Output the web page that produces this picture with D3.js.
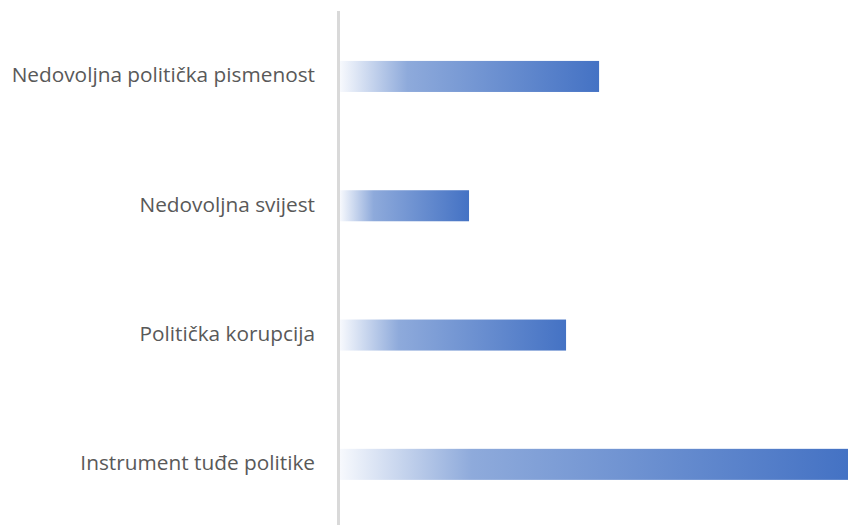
<!DOCTYPE html>
<html><head><meta charset="utf-8">
<script src="https://cdn.jsdelivr.net/npm/d3@7"></script>
<style>html,body{margin:0;padding:0;background:#fff;}</style>
</head><body>
<svg id="c" width="848" height="525"></svg>
<script>
const categories = ["Nedovoljna politička pismenost","Nedovoljna svijest","Politička korupcija","Instrument tuđe politike"];
const values = [51, 25.4, 44.5, 100];

const svg = d3.select("#c");
const x = d3.scaleLinear().domain([0, 100]).range([340, 848]);
const y = d3.scaleBand().domain(categories).range([11.8, 529]).paddingInner(0.76).paddingOuter(0.38);

const defs = svg.append("defs");
const grad = defs.append("linearGradient").attr("id","g").attr("x1","0").attr("x2","1").attr("y1","0").attr("y2","0");
grad.append("stop").attr("offset","0").attr("stop-color","#f7f9fd");
grad.append("stop").attr("offset","0.26").attr("stop-color","#8eaadb");
grad.append("stop").attr("offset","1").attr("stop-color","#4472c4");

svg.selectAll("rect.bar").data(categories).join("rect").attr("class","bar")
  .attr("x", x(0)).attr("y", d => y(d)).attr("height", y.bandwidth())
  .attr("width", (d,i) => x(values[i]) - x(0)).attr("fill","url(#g)");

svg.append("line").attr("x1",338.5).attr("x2",338.5).attr("y1",11).attr("y2",525)
  .attr("stroke","#d9d9d9").attr("stroke-width",3);

svg.selectAll("text.lab").data(categories).join("text").attr("class","lab")
  .attr("x", 315).attr("y", d => y(d) + y.bandwidth()/2 + 6)
  .attr("text-anchor","end").attr("fill","#595959")
  .style("font-family","'Open Sans', sans-serif").style("font-size","20.8px")
  .text(d => d);
</script>
</body></html>
